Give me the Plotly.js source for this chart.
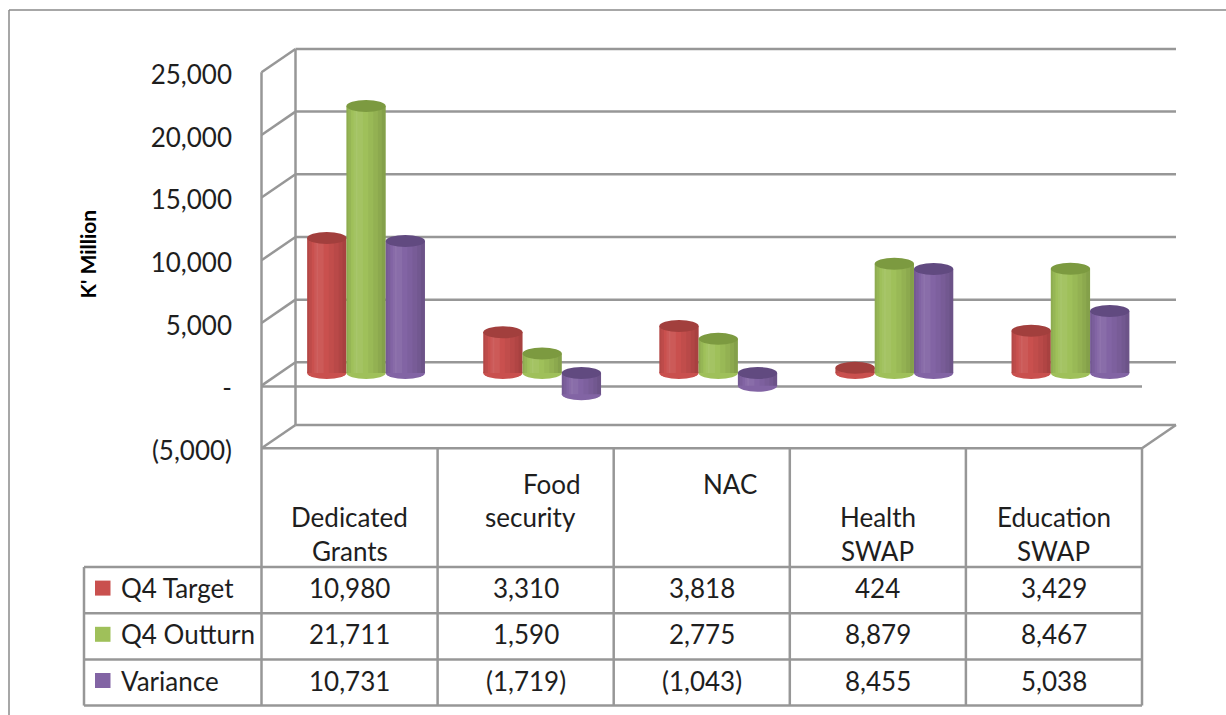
<!DOCTYPE html>
<html>
<head>
<meta charset="utf-8">
<script src="https://cdn.plot.ly/plotly-3.0.1.min.js"></script>
<style>html,body{margin:0;padding:0;background:#fff;}#chart{width:1226px;height:715px;}</style>
</head>
<body>
<div id="chart"></div>
<script>
// ---------------- data ----------------
const CATEGORIES = ["Dedicated Grants", "Food security", "NAC", "Health SWAP", "Education SWAP"];
const SERIES_NAMES = ["Q4 Target", "Q4 Outturn", "Variance"];
const Q4_TARGET = [10980, 3310, 3818, 424, 3429];
const Q4_OUTTURN = [21711, 1590, 2775, 8879, 8467];
const VARIANCE = [10731, -1719, -1043, 8455, 5038];
const Y_TICKS = [-5000, 0, 5000, 10000, 15000, 20000, 25000];
const Y_TITLE = "K' Million";

// ---------------- style / geometry ----------------
const W = 1226, H = 715;
const FONT = "Lato, 'Open Sans', sans-serif";
const TXT = "#1e1e1e";
const GRID = "#979797";
const COLORS = ["#c9504e", "#9fc05a", "#8264a4"];
const CAPS = ["#a23f3d", "#7c9a40", "#614a80"];
const FRONT = {x0: 261.5, x1: 1142, zero: 385.6, k: 62.67 / 5000};
const DEPTH = {dx: 34, dy: -23.3};
const BARPLANE = {x0: 278, x1: 1158.5, zero: 373, k: 61.5 / 5000};
const BAR_W = 0.223;
const CAP_HALF_PX = 6;
const TABLE = {left: 84, rows: [567, 613.2, 659.4, 705.6]};
const TABLE_TEXT_LIFT = 2;
const HEADER_ROW_Y = [483.5, 517, 550.5];
const HEADER_START_ROW = [1, 0, 0, 1, 1];
const HEADER_SHIFT = [[0, 0], [26, 5], [28], [0, 0], [0, 0]];
const LABEL_DROP = 2.5;
// cylinder shading strips: [start fraction, width fraction, colour]
const SHADE = [
  [0.00, 0.05, "rgba(0,0,0,0.10)"],
  [0.05, 0.07, "rgba(0,0,0,0.05)"],
  [0.18, 0.10, "rgba(255,255,255,0.05)"],
  [0.24, 0.18, "rgba(255,255,255,0.06)"],
  [0.55, 0.45, "rgba(0,0,0,0.035)"],
  [0.68, 0.32, "rgba(0,0,0,0.04)"],
  [0.80, 0.20, "rgba(0,0,0,0.045)"],
  [0.90, 0.10, "rgba(0,0,0,0.05)"]
];

const SERIES = [Q4_TARGET, Q4_OUTTURN, VARIANCE];
const yRange = [Y_TICKS[0], Y_TICKS[Y_TICKS.length - 1]];

function fmt(v) {
  if (v === 0) return "-";
  const s = Math.abs(v).toLocaleString("en-US");
  return v < 0 ? "(" + s + ")" : s;
}
const px = x => x / W;
const py = y => 1 - y / H;
const frontY = v => FRONT.zero - v * FRONT.k;
const backY = v => frontY(v) + DEPTH.dy;
function domainFor(zero, k, off) {
  const top = zero + (off || 0) - yRange[1] * k;
  const bottom = zero + (off || 0) - yRange[0] * k;
  return [py(bottom), py(top)];
}
function seg(x0, y0, x1, y1, width, color) {
  return {type: "line", xref: "paper", yref: "paper", layer: "below",
    x0: px(x0), y0: py(y0), x1: px(x1), y1: py(y1),
    line: {color: color || GRID, width: width || 2.5}};
}

// ---------------- traces ----------------
const traces = [];
traces.push({type: "scatter", x: [0], y: [0], xaxis: "x", yaxis: "y", mode: "markers",
  marker: {opacity: 0}, showlegend: false, hoverinfo: "skip"});

const xs = CATEGORIES.map((c, i) => i);
SERIES.forEach((vals, i) => {
  const off = -1.5 * BAR_W + i * BAR_W;
  traces.push({type: "bar", name: SERIES_NAMES[i], x: xs, y: vals, xaxis: "x2", yaxis: "y2",
    offset: off, width: BAR_W, marker: {color: COLORS[i], line: {width: 0}},
    showlegend: false, hovertext: CATEGORIES, hoverinfo: "text+y"});
  SHADE.forEach(s => {
    traces.push({type: "bar", x: xs, y: vals, xaxis: "x2", yaxis: "y2",
      offset: off + s[0] * BAR_W, width: s[1] * BAR_W,
      marker: {color: s[2], line: {width: 0}}, showlegend: false, hoverinfo: "skip"});
  });
});

// ---------------- shapes ----------------
const shapes = [];
shapes.push(seg(9, 10, W, 10, 1.5, "#8a8a8a"));
shapes.push(seg(9, 10, 9, H, 1.5, "#8a8a8a"));

const backX0 = FRONT.x0 + DEPTH.dx, backX1 = FRONT.x1 + DEPTH.dx;
Y_TICKS.forEach(v => {
  shapes.push(seg(backX0, backY(v), backX1, backY(v)));
  shapes.push(seg(FRONT.x0, frontY(v), backX0, backY(v)));
});
shapes.push(seg(backX0, backY(yRange[1]), backX0, backY(yRange[0])));
shapes.push(seg(FRONT.x0, frontY(yRange[1]), FRONT.x0, TABLE.rows[3]));
shapes.push(seg(FRONT.x0, frontY(0) + 1, FRONT.x1, frontY(0) + 1));
shapes.push(seg(FRONT.x0, frontY(yRange[0]), FRONT.x1, frontY(yRange[0])));
shapes.push(seg(FRONT.x1, frontY(yRange[0]), backX1, backY(yRange[0])));

const colW = (FRONT.x1 - FRONT.x0) / CATEGORIES.length;
for (let c = 1; c <= CATEGORIES.length; c++) {
  const x = FRONT.x0 + c * colW;
  shapes.push(seg(x, frontY(yRange[0]), x, TABLE.rows[3]));
}
TABLE.rows.forEach(y => shapes.push(seg(TABLE.left, y, FRONT.x1, y)));
shapes.push(seg(TABLE.left, TABLE.rows[0], TABLE.left, TABLE.rows[3]));

SERIES_NAMES.forEach((n, i) => {
  const cy = (TABLE.rows[i] + TABLE.rows[i + 1]) / 2 - 2;
  shapes.push({type: "rect", xref: "paper", yref: "paper", layer: "below",
    x0: px(95), x1: px(110.5), y0: py(cy + 7.5), y1: py(cy - 7.5),
    fillcolor: COLORS[i], line: {width: 0}});
});

const capUnits = CAP_HALF_PX / BARPLANE.k;
SERIES.forEach((vals, i) => {
  vals.forEach((v, c) => {
    const cx = c + (i - 1) * BAR_W;
    const top = Math.max(v, 0), bot = Math.min(v, 0);
    shapes.push({type: "circle", xref: "x2", yref: "y2", layer: "below",
      x0: cx - BAR_W / 2, x1: cx + BAR_W / 2, y0: bot - capUnits, y1: bot + capUnits,
      fillcolor: COLORS[i], line: {width: 0}});
    shapes.push({type: "circle", xref: "x2", yref: "y2", layer: "above",
      x0: cx - BAR_W / 2, x1: cx + BAR_W / 2, y0: top - capUnits, y1: top + capUnits,
      fillcolor: CAPS[i], line: {width: 0}});
  });
});

// ---------------- annotations ----------------
const annotations = [];
const tfont = {family: FONT, size: 26, color: TXT};
SERIES.forEach((vals, i) => {
  const cy = (TABLE.rows[i] + TABLE.rows[i + 1]) / 2 - TABLE_TEXT_LIFT;
  annotations.push({xref: "paper", yref: "paper", x: px(119), y: py(cy), xanchor: "left",
    yanchor: "middle", text: SERIES_NAMES[i], showarrow: false, font: tfont});
  vals.forEach((v, c) => {
    annotations.push({xref: "paper", yref: "paper", x: px(FRONT.x0 + (c + 0.5) * colW), y: py(cy),
      xanchor: "center", yanchor: "middle", text: fmt(v), showarrow: false, font: tfont});
  });
});
CATEGORIES.forEach((cat, c) => {
  const words = cat.split(" ");
  words.forEach((wd, j) => {
    annotations.push({xref: "paper", yref: "paper",
      x: px(FRONT.x0 + (c + 0.5) * colW + (HEADER_SHIFT[c][j] || 0)),
      y: py(HEADER_ROW_Y[HEADER_START_ROW[c] + j]), xanchor: "center", yanchor: "middle",
      text: wd, showarrow: false, font: tfont});
  });
});
annotations.push({xref: "paper", yref: "paper", x: px(86.5), y: py(254), textangle: -90,
  xanchor: "center", yanchor: "middle", text: "<b>" + Y_TITLE + "</b>", showarrow: false,
  font: {family: FONT, size: 21, color: "#000"}});

// ---------------- layout ----------------
const layout = {
  width: W, height: H,
  margin: {l: 0, r: 0, t: 0, b: 0, pad: 0},
  paper_bgcolor: "#fff", plot_bgcolor: "rgba(0,0,0,0)",
  showlegend: false, barmode: "overlay",
  xaxis: {domain: [px(FRONT.x0), px(FRONT.x1)], range: [-0.5, CATEGORIES.length - 0.5], visible: false, fixedrange: true},
  yaxis: {domain: domainFor(FRONT.zero, FRONT.k, LABEL_DROP), range: yRange, anchor: "free", position: px(232),
    tickvals: Y_TICKS, ticktext: Y_TICKS.map(fmt), showgrid: false, zeroline: false, showline: false,
    ticks: "", tickfont: {family: FONT, size: 26, color: TXT}, fixedrange: true},
  xaxis2: {domain: [px(BARPLANE.x0), px(BARPLANE.x1)], range: [-0.5, CATEGORIES.length - 0.5], anchor: "y2", visible: false, fixedrange: true},
  yaxis2: {domain: domainFor(BARPLANE.zero, BARPLANE.k, 0), range: yRange, anchor: "x2", visible: false, fixedrange: true},
  shapes: shapes,
  annotations: annotations
};

Plotly.newPlot("chart", traces, layout, {displayModeBar: false, staticPlot: true});
</script>
</body>
</html>
